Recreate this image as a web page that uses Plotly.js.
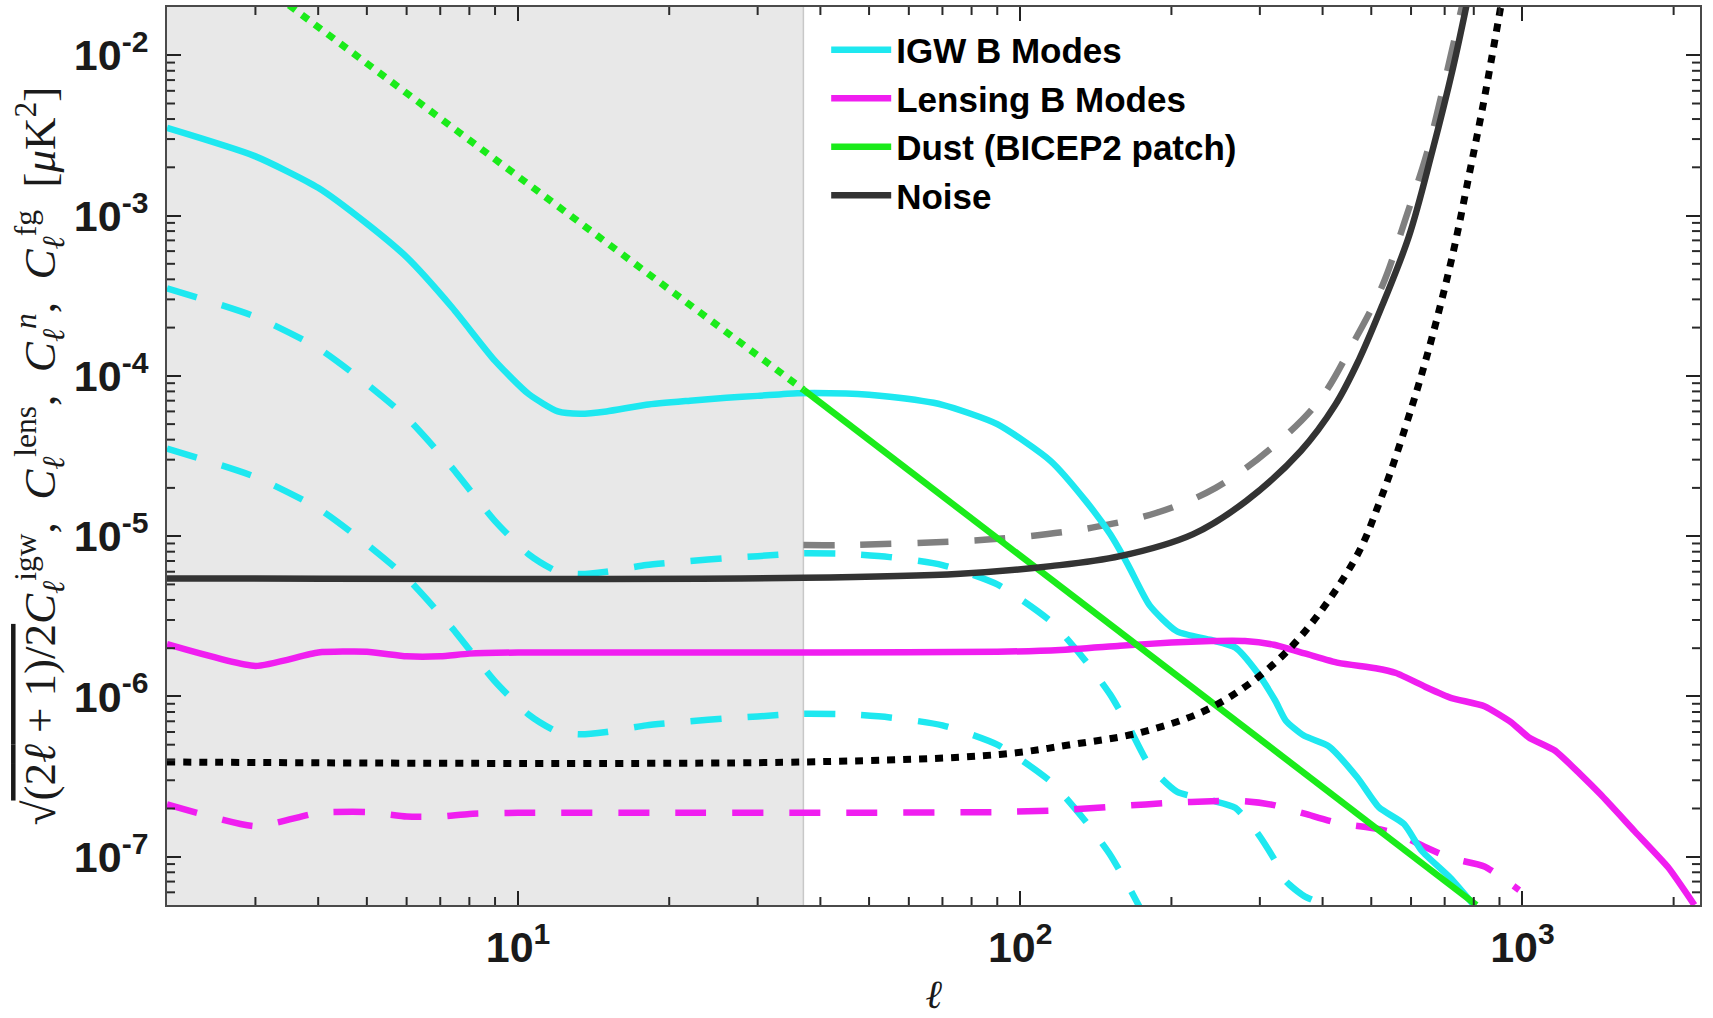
<!DOCTYPE html>
<html>
<head>
<meta charset="utf-8">
<script src="https://cdn.plot.ly/plotly-3.0.1.min.js"></script>
<style>html,body{margin:0;padding:0;background:#fff;}#chart{width:1713px;height:1018px;}</style>
</head>
<body>
<div id="chart"></div>
<script>
// ---------- data ----------
const shadeLmax = 37;

const igwL = [2, 3, 4, 5, 6, 7.4, 9, 10.5, 12, 13.3, 15, 18, 22, 26, 30, 36, 45, 55, 70, 90, 115, 135, 151, 164, 181, 205, 240, 268, 296, 322, 338, 367, 411, 469, 518, 581, 630, 718, 800];
const igwSolid = [3.52e-3, 2.34e-3, 1.49e-3, 8.9e-4, 5.5e-4, 2.66e-4, 1.24e-4, 7.7e-5, 6.0e-5, 5.8e-5, 6.0e-5, 6.6e-5, 7.0e-5, 7.3e-5, 7.5e-5, 7.8e-5, 7.75e-5, 7.4e-5, 6.6e-5, 5.0e-5, 2.94e-5, 1.66e-5, 1.03e-5, 6.6e-6, 3.7e-6, 2.55e-6, 2.25e-6, 2.02e-6, 1.42e-6, 9.4e-7, 7.05e-7, 5.7e-7, 4.9e-7, 3.12e-7, 2.03e-7, 1.6e-7, 1.09e-7, 7.4e-8, 5.0e-8];
const igwDashA = [3.52e-4, 2.34e-4, 1.49e-4, 8.9e-5, 5.5e-5, 2.66e-5, 1.24e-5, 7.7e-6, 6.0e-6, 5.8e-6, 6.0e-6, 6.6e-6, 7.0e-6, 7.3e-6, 7.5e-6, 7.8e-6, 7.75e-6, 7.4e-6, 6.6e-6, 5.0e-6, 2.94e-6, 1.66e-6, 1.03e-6, 6.6e-7, 3.7e-7, 2.55e-7, 2.25e-7, 2.02e-7, 1.42e-7, 9.4e-8, 7.05e-8, 5.7e-8, 4.9e-8];
const igwDashB = [3.52e-5, 2.34e-5, 1.49e-5, 8.9e-6, 5.5e-6, 2.66e-6, 1.24e-6, 7.7e-7, 6.0e-7, 5.8e-7, 6.0e-7, 6.6e-7, 7.0e-7, 7.3e-7, 7.5e-7, 7.8e-7, 7.75e-7, 7.4e-7, 6.6e-7, 5.0e-7, 2.94e-7, 1.66e-7, 1.03e-7, 6.6e-8, 3.7e-8];

const lensL = [2, 3, 4, 5, 6, 7, 8, 10, 20, 40, 90, 120, 158, 200, 240, 280, 320, 370, 430, 510, 560, 640, 720, 840, 950, 1030, 1160, 1300, 1430, 1670, 1950, 2200];
const lensSolid = [2.12e-6, 1.55e-6, 1.88e-6, 1.9e-6, 1.78e-6, 1.78e-6, 1.85e-6, 1.88e-6, 1.88e-6, 1.88e-6, 1.9e-6, 1.95e-6, 2.07e-6, 2.17e-6, 2.22e-6, 2.22e-6, 2.1e-6, 1.85e-6, 1.62e-6, 1.5e-6, 1.4e-6, 1.15e-6, 9.8e-7, 8.7e-7, 6.9e-7, 5.55e-7, 4.6e-7, 3.3e-7, 2.45e-7, 1.45e-7, 8.6e-8, 5.0e-8];
const lensDashL = [2, 3, 4, 5, 6, 7, 8, 10, 20, 40, 90, 120, 158, 200, 240, 280, 320, 370, 430, 510, 560, 640, 720, 840, 985];
const lensDash = [2.12e-7, 1.55e-7, 1.88e-7, 1.9e-7, 1.78e-7, 1.78e-7, 1.85e-7, 1.88e-7, 1.88e-7, 1.88e-7, 1.9e-7, 1.95e-7, 2.07e-7, 2.17e-7, 2.22e-7, 2.22e-7, 2.1e-7, 1.85e-7, 1.62e-7, 1.5e-7, 1.4e-7, 1.15e-7, 9.8e-8, 8.7e-8, 6.2e-8];

const dustMaskL = [3.5, 37];
const dustMask = [2.05e-2, 8.2e-5];
const dustL = [37, 810];
const dustSolid = [8.2e-5, 5.0e-8];

const noiseL = [2, 37, 76, 115, 158, 221, 282, 362, 424, 472, 527, 594, 661, 727, 775];
const noiseSolid = [5.45e-6, 5.5e-6, 5.83e-6, 6.5e-6, 7.5e-6, 1.03e-5, 1.66e-5, 3.4e-5, 6.6e-5, 1.25e-4, 2.8e-4, 7.4e-4, 2.5e-3, 8.3e-3, 2.1e-2];
const noiseDashL = [37, 44, 76, 104, 139, 187, 245, 318, 395, 460, 527, 586, 644, 693, 760];
const noiseDash = [8.8e-6, 8.8e-6, 9.3e-6, 1.0e-5, 1.13e-5, 1.4e-5, 2.0e-5, 3.6e-5, 7.1e-5, 1.6e-4, 3.7e-4, 9.7e-4, 2.4e-3, 6.0e-3, 2.1e-2];
const noiseDotL = [2, 37, 91, 126, 175, 243, 338, 460, 522, 603, 661, 727, 786, 838, 905];
const noiseDot = [3.9e-7, 3.9e-7, 4.35e-7, 5.0e-7, 6.0e-7, 8.7e-7, 1.88e-6, 6.85e-6, 1.7e-5, 6.5e-5, 1.75e-4, 5.8e-4, 1.9e-3, 5.2e-3, 2.0e-2];

const xTickVals = [10, 100, 1000];
const xTickText = ['10<sup>1</sup>', '10<sup>2</sup>', '10<sup>3</sup>'];
const yTickVals = [1e-7, 1e-6, 1e-5, 1e-4, 1e-3, 1e-2];
const yTickText = ['10<sup>-7</sup>', '10<sup>-6</sup>', '10<sup>-5</sup>', '10<sup>-4</sup>', '10<sup>-3</sup>', '10<sup>-2</sup>'];

const legendNames = ['IGW B Modes', 'Lensing B Modes', 'Dust (BICEP2 patch)', 'Noise'];

// ---------- styling ----------
const CYAN = '#1ee8f0', MAG = '#f01ef0', GREEN = '#1aeb1a', NOISE = '#333333', NGRAY = '#808080';
const LW = 6.5;
const DASH = '31px,26px';
const DOT = '8px,8px';

function tr(x, y, color, dash, name, show, shape, smooth, width) {
  const line = {color: color, width: width || LW, dash: dash || 'solid', shape: shape || 'linear'};
  if (shape === 'spline') line.smoothing = smooth || 1;
  return {x: x, y: y, type: 'scatter', mode: 'lines', name: name || '', showlegend: !!show,
    line: line, hoverinfo: 'skip'};
}

const traces = [
  tr(igwL, igwDashB, CYAN, DASH, '', false, 'spline', 0.6),
  tr(igwL, igwDashA, CYAN, DASH, '', false, 'spline', 0.6),
  tr(lensDashL, lensDash, MAG, DASH, '', false, 'spline', 0.5),
  tr(noiseDashL, noiseDash, NGRAY, DASH, '', false, 'spline'),
  tr(igwL, igwSolid, CYAN, 'solid', legendNames[0], true, 'spline', 0.6),
  tr(lensL, lensSolid, MAG, 'solid', legendNames[1], true, 'spline', 0.5),
  tr(dustMaskL, dustMask, GREEN, DOT, '', false, 'linear', 0, 7),
  tr(dustL, dustSolid, GREEN, 'solid', legendNames[2], true),
  tr(noiseL, noiseSolid, NOISE, 'solid', legendNames[3], true, 'spline'),
  tr(noiseDotL, noiseDot, '#000000', DOT, '', false, 'spline', 1, 7)
];

const tickFont = {family: 'Liberation Sans, Arial, sans-serif', size: 43, weight: 'bold', color: '#1a1a1a'};
const xRange = [Math.log10(2), Math.log10(2257)];
const yRange = [Math.log10(5e-8), Math.log10(2e-2)];
const axisCommon = {
  type: 'log', showgrid: false, zeroline: false,
  showline: true, linecolor: '#4a4a4a', linewidth: 2, mirror: 'allticks',
  ticks: 'inside', ticklen: 14, tickwidth: 2, tickcolor: '#222',
  tickmode: 'array', tickfont: tickFont
};

// minor tick marks (2..9 x 10^k) on all four sides, drawn as short axis-attached lines
const minorShapes = [];
const MINOR_COLOR = '#2a2a2a', MINOR_W = 2;
const xTickFrac = 8 / 898, yTickFrac = 8 / 1533;
for (let k = 0; k <= 3; k++) {
  for (let d = 2; d <= 9; d++) {
    const v = d * Math.pow(10, k);
    if (Math.log10(v) <= xRange[0] || Math.log10(v) >= xRange[1]) continue;
    minorShapes.push({type: 'line', xref: 'x', yref: 'paper', x0: v, x1: v, y0: 0, y1: xTickFrac, line: {color: MINOR_COLOR, width: MINOR_W}, layer: 'above'});
    minorShapes.push({type: 'line', xref: 'x', yref: 'paper', x0: v, x1: v, y0: 1 - xTickFrac, y1: 1, line: {color: MINOR_COLOR, width: MINOR_W}, layer: 'above'});
  }
}
for (let k = -8; k <= -2; k++) {
  for (let d = 2; d <= 9; d++) {
    const v = d * Math.pow(10, k);
    if (Math.log10(v) <= yRange[0] || Math.log10(v) >= yRange[1]) continue;
    minorShapes.push({type: 'line', xref: 'paper', yref: 'y', x0: 0, x1: yTickFrac, y0: v, y1: v, line: {color: MINOR_COLOR, width: MINOR_W}, layer: 'above'});
    minorShapes.push({type: 'line', xref: 'paper', yref: 'y', x0: 1 - yTickFrac, x1: 1, y0: v, y1: v, line: {color: MINOR_COLOR, width: MINOR_W}, layer: 'above'});
  }
}

const layout = {
  width: 1713, height: 1018,
  margin: {l: 167, r: 13, t: 7, b: 113},
  paper_bgcolor: '#ffffff', plot_bgcolor: '#ffffff',
  showlegend: true,
  legend: {x: 0.43, y: 0.985, xanchor: 'left', yanchor: 'top', bgcolor: 'rgba(0,0,0,0)', borderwidth: 0,
    font: {family: 'Liberation Sans, Arial, sans-serif', size: 35, weight: 'bold', color: '#000'},
    itemwidth: 60, tracegroupgap: 0},
  xaxis: Object.assign({}, axisCommon, {
    range: xRange, tickvals: xTickVals, ticktext: xTickText, ticklabelstandoff: 3,
    title: {text: '<i>ℓ</i>', font: {family: 'Liberation Serif, DejaVu Serif, serif', size: 40, color: '#1a1a1a'}, standoff: 10}
  }),
  yaxis: Object.assign({}, axisCommon, {
    range: yRange, tickvals: yTickVals, ticktext: yTickText, ticklabelstandoff: 8,
    title: {text: '√<span style="text-decoration:overline">(2<i>ℓ</i> + 1)/2</span><i>C</i><sub><i>ℓ</i></sub><sup>igw</sup>,  <i>C</i><sub><i>ℓ</i></sub><sup>lens</sup>,  <i>C</i><sub><i>ℓ</i></sub><sup><i>n</i></sup>,  <i>C</i><sub><i>ℓ</i></sub><sup>fg</sup>  [<i>μ</i>K<sup>2</sup>]',
      font: {family: 'Liberation Serif, DejaVu Serif, serif', size: 45, color: '#1a1a1a'}, standoff: 4}
  }),
  shapes: [{type: 'rect', xref: 'x', yref: 'paper', x0: 2, x1: shadeLmax, y0: 0, y1: 1,
    fillcolor: '#e8e8e8', line: {width: 0}, layer: 'below'},
    {type: 'line', xref: 'x', yref: 'paper', x0: shadeLmax, x1: shadeLmax, y0: 0, y1: 1,
    line: {color: '#c8c8c8', width: 1.5}, layer: 'below'}].concat(minorShapes)
};

Plotly.newPlot('chart', traces, layout, {displayModeBar: false, staticPlot: true});
</script>
</body>
</html>
